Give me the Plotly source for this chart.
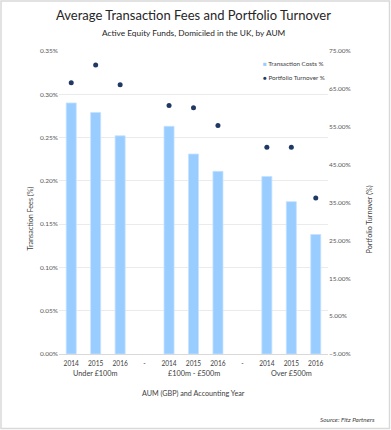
import plotly.graph_objects as go

groups = ["Under £100m", "£100m - £500m", "Over £500m"]
years = ["2014", "2015", "2016"]
separator_label = "-"

# Transaction costs (fraction) per group, per year
transaction_costs = {
    "Under £100m": [0.00290, 0.00279, 0.00252],
    "£100m - £500m": [0.00263, 0.00231, 0.00211],
    "Over £500m": [0.00205, 0.00176, 0.00138],
}
# Portfolio turnover (fraction) per group, per year
portfolio_turnover = {
    "Under £100m": [0.666, 0.713, 0.661],
    "£100m - £500m": [0.606, 0.600, 0.553],
    "Over £500m": [0.496, 0.496, 0.362],
}

# Build category sequence with separators
cat_labels = []
cat_group = []
for gi, g in enumerate(groups):
    for y in years:
        cat_labels.append(y)
        cat_group.append(g)
    if gi < len(groups) - 1:
        cat_labels.append(separator_label)
        cat_group.append(None)
positions = list(range(len(cat_labels)))

bar_x, bar_y, dot_x, dot_y = [], [], [], []
for g in groups:
    idx = [i for i, cg in enumerate(cat_group) if cg == g]
    bar_x += idx
    bar_y += transaction_costs[g]
    dot_x += idx
    dot_y += portfolio_turnover[g]

FONT = "Lato"
GRAY = "#595959"
DARK = "#404040"
BAR_COLOR = "#99CCFF"
DOT_COLOR = "#1F3864"

W, H = 391, 430
L, R, T, B = 59, 63, 51, 76
PW, PH = W - L - R, H - T - B


def px_x(px):
    return (px - L) / PW


def px_y(py):
    return (H - B - py) / PH


fig = go.Figure()
fig.add_trace(go.Bar(
    x=bar_x, y=bar_y, name="Transaction Costs %",
    marker=dict(color=BAR_COLOR, line=dict(color="#C6E2FF", width=0.8)),
    width=0.41, showlegend=False,
))
fig.add_trace(go.Scatter(
    x=dot_x, y=dot_y, name="Portfolio Turnover %", yaxis="y2",
    mode="markers", marker=dict(color=DOT_COLOR, size=5), showlegend=False,
))

annotations = []
# group labels
for g in groups:
    idx = [i for i, cg in enumerate(cat_group) if cg == g]
    annotations.append(dict(x=sum(idx) / len(idx), y=px_y(373.5), xref="x", yref="paper", yanchor="middle",
                            text=g, showarrow=False, font=dict(size=7.3, color=DARK, family=FONT)))
annotations += [
    dict(x=0.5, y=px_y(15.5), xref="paper", yref="paper", text="Average Transaction Fees and Portfolio Turnover",
         showarrow=False, font=dict(size=13, color="#262626", family=FONT), xanchor="center", yanchor="middle"),
    dict(x=0.5, y=px_y(32.5), xref="paper", yref="paper", text="Active Equity Funds, Domiciled in the UK, by AUM",
         showarrow=False, font=dict(size=8.3, color="#262626", family=FONT), xanchor="center", yanchor="middle"),
    dict(x=px_x(23), y=px_y(219), xref="paper", yref="paper", text="Transaction Fees (%)", textangle=-90,
         showarrow=False, font=dict(size=7.2, color=DARK, family=FONT)),
    dict(x=px_x(375), y=px_y(220), xref="paper", yref="paper", text="Portfolio Turnover (%)", textangle=-90,
         showarrow=False, font=dict(size=7.2, color=DARK, family=FONT)),
    dict(x=0.5, y=px_y(393.5), xref="paper", yref="paper", text="AUM (GBP) and Accounting Year", yanchor="middle",
         showarrow=False, font=dict(size=7.2, color=DARK, family=FONT)),
    dict(x=px_x(377), y=px_y(419.5), xref="paper", yref="paper", text="<i>Source: Fitz Partners</i>",
         xanchor="right", yanchor="middle", showarrow=False, font=dict(size=6.4, color=DARK, family=FONT)),
    # legend (manual)
    dict(x=px_x(260.5), y=px_y(63), xref="paper", yref="paper", xanchor="left", yanchor="middle",
         text=f"<span style='color:{BAR_COLOR}'>■</span> Transaction Costs %",
         showarrow=False, font=dict(size=6.3, color=DARK, family=FONT)),
    dict(x=px_x(260.5), y=px_y(77), xref="paper", yref="paper", xanchor="left", yanchor="middle",
         text=f"<span style='color:{DOT_COLOR}'>●</span> Portfolio Turnover %",
         showarrow=False, font=dict(size=6.3, color=DARK, family=FONT)),
]

fig.update_layout(
    width=W, height=H,
    margin=dict(l=L, r=R, t=T, b=B),
    paper_bgcolor="white", plot_bgcolor="white",
    font=dict(family=FONT, color=GRAY, size=6.5),
    showlegend=False,
    hovermode=False,
    xaxis=dict(range=[-0.5, len(cat_labels) - 0.5], tickmode="array", tickvals=positions, ticktext=cat_labels,
               showgrid=False, showline=True, linecolor="#D9D9D9", linewidth=1, ticks="",
               ticklabelstandoff=3,
               tickfont=dict(size=6.6, color=DARK), zeroline=False),
    yaxis=dict(range=[0, 0.0035], dtick=0.0005, tickformat=".2%", showgrid=True, gridcolor="#EBEBEB",
               zeroline=False, ticks="", tickfont=dict(size=6.5, color=GRAY)),
    yaxis2=dict(range=[-0.05, 0.75], tick0=-0.05, dtick=0.10, tickformat=".2%", overlaying="y", side="right",
                showgrid=False, zeroline=False, ticks="", tickfont=dict(size=6.5, color=GRAY)),
    annotations=annotations,
    shapes=[dict(type="rect", xref="paper", yref="paper", x0=px_x(1), x1=px_x(W - 1.5), y0=px_y(H - 1.5), y1=px_y(1),
                 line=dict(color="#D9D9D9", width=1.5))],
)

fig.write_html("out.html", config={"displayModeBar": False, "staticPlot": True},
               post_script="document.body.style.margin='0';document.body.style.padding='0';")
